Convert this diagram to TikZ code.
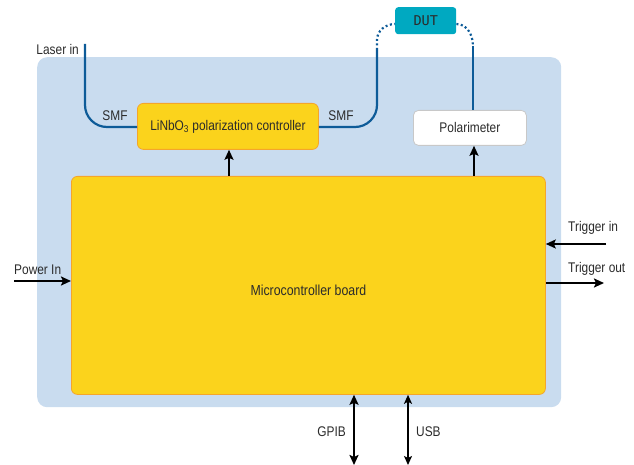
\documentclass[tikz,border=0pt]{standalone}
\usepackage{fontspec}
\setmainfont[FakeStretch=0.85]{Liberation Sans}
\setmonofont{DejaVu Sans Mono}
\usetikzlibrary{arrows.meta,calc}
\definecolor{bgblue}{HTML}{C9DCEF}
\definecolor{boxyellow}{HTML}{FBD31C}
\definecolor{boxorange}{HTML}{F5A52A}
\definecolor{dutteal}{HTML}{00A9C1}
\definecolor{fiber}{HTML}{0D5B98}
\definecolor{polgray}{HTML}{C8C8C8}
\definecolor{txt}{HTML}{2B2B2B}
\tikzset{
  yellowbox/.style={draw=boxorange, line width=0.8pt, fill=boxyellow, rounded corners=6pt, inner sep=0pt, text=txt},
  fib/.style={draw=fiber, line width=2.2pt},
  fibdot/.style={draw=fiber, line width=2.2pt, dash pattern=on 2pt off 2.5pt},
  sig/.style={draw=black, line width=2.6pt, -{Stealth[length=10pt,width=9pt,inset=2pt]}},
  sigtwo/.style={draw=black, line width=2.6pt, {Stealth[length=10pt,width=9pt,inset=2pt]}-{Stealth[length=10pt,width=9pt,inset=2pt]}},
  sigthin/.style={draw=black, line width=1.6pt, {Stealth[length=9pt,width=8pt,inset=2pt]}-{Stealth[length=9pt,width=8pt,inset=2pt]}},
  lbl/.style={font=\fontsize{14}{16}\selectfont, text=txt, inner sep=0pt}
}
\begin{document}
\begin{tikzpicture}[x=1pt,y=-1pt]
\useasboundingbox (0,0) rectangle (634,465);
% background panel
\node[fill=bgblue, rounded corners=10pt, minimum width=524pt, minimum height=350pt, inner sep=0pt, anchor=north west] (bg) at (37,57) {};
% boxes
\node[yellowbox, minimum width=181pt, minimum height=46pt, anchor=north west] (lnb) at (137,103) {};
\node[lbl] (lnbtext) at (lnb.center) {LiNbO\textsubscript{3} polarization controller};
\node[draw=polgray, line width=0.8pt, fill=white, rounded corners=5pt, minimum width=113pt, minimum height=35pt, inner sep=0pt, anchor=north west, lbl] (pol) at (413,110) {Polarimeter};
\node[fill=dutteal, rounded corners=3pt, minimum width=61pt, minimum height=27pt, inner sep=0pt, anchor=north west, lbl, font=\fontsize{13.5}{14}\selectfont\ttfamily] (dut) at (395,7) {DUT};
\node[yellowbox, minimum width=474pt, minimum height=218pt, anchor=north west] (mcb) at (71,176) {};
\node[lbl, font=\fontsize{14.5}{16}\selectfont] (mcbtext) at ($(mcb.center)+(0,5)$) {Microcontroller board};
% fibers
\coordinate (laser) at (85,44);
\coordinate (upl) at (377,50);
\coordinate (upr) at (473,46);
\path[fib] (laser) -- (85,105) arc[start angle=180, end angle=270, radius=22pt] -- (lnb.west |- 0,127);
\path[fib] (lnb.east |- 0,127) -- (355,127) arc[start angle=270, end angle=360, radius=22pt] -- (upl);
\path[fibdot] (upl) -- (377,40) to[out=90,in=180] (dut.west |- 0,24);
\path[fibdot] (dut.east |- 0,24) to[out=0,in=90] (upr);
\path[fib] (upr) -- (pol.north -| upr);
% labels
\node[lbl, anchor=east] (lasertext) at (79,49) {Laser in};
\node[lbl] (smfl) at (115,116) {SMF};
\node[lbl] (smfr) at (341,116) {SMF};
% control arrows
\path[sig] (mcb.north -| 229,0) -- (lnb.south -| 229,0);
\path[sig] (mcb.north -| 474,0) -- (pol.south -| 474,0);
% side arrows
\coordinate (pwr) at (14,281);
\path[sig] (pwr) -- (mcb.west |- pwr);
\node[lbl, anchor=west] (pwrtext) at (14,270) {Power In};
\coordinate (trin) at (606,244);
\path[sig] (trin) -- (mcb.east |- trin);
\node[lbl, anchor=west] (trintext) at (568,228) {Trigger in};
\coordinate (trout) at (604,283);
\path[sig] (mcb.east |- trout) -- (trout);
\node[lbl, anchor=west] (trouttext) at (568,269) {Trigger out};
% bottom arrows
\coordinate (gpib) at (354,465);
\coordinate (usb) at (408,465);
\path[sigtwo] (mcb.south -| gpib) -- (gpib);
\path[sigthin] (mcb.south -| usb) -- (usb);
\node[lbl, anchor=east] (gpibtext) at (346,432) {GPIB};
\node[lbl, anchor=west] (usbtext) at (416,432) {USB};
\end{tikzpicture}
\end{document}
